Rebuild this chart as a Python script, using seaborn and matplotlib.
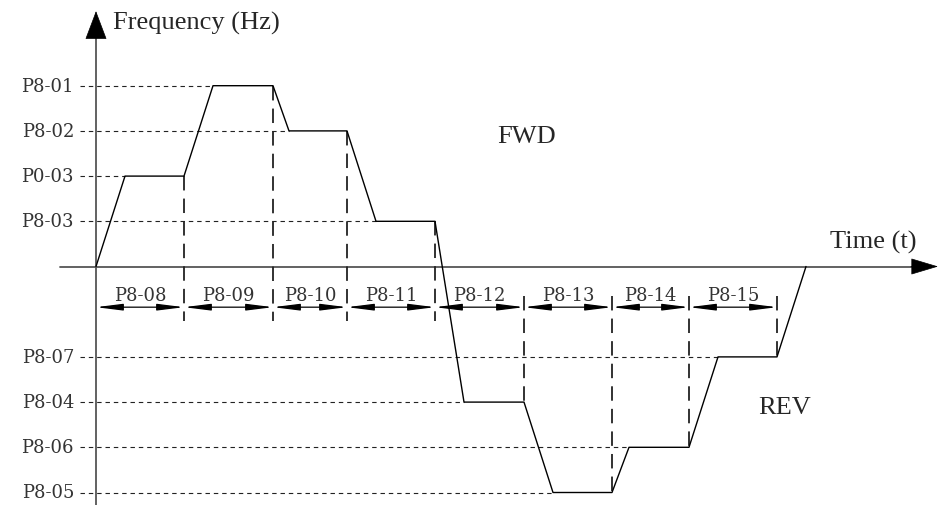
import matplotlib
matplotlib.use("Agg")
import matplotlib.pyplot as plt
import seaborn as sns
import pandas as pd

# level names and their frequencies (Hz)
level_names = ["P8-01", "P8-02", "P0-03", "P8-03", "P8-07", "P8-04", "P8-06", "P8-05"]
level_values = [40, 30, 20, 10, -20, -30, -40, -50]

# speed profile corner points
profile_t = [0, 2.9, 8.8, 11.7, 17.7, 19.3, 25.1, 28.0, 33.9,
             36.8, 42.8, 45.7, 51.6, 53.3, 59.3, 62.2, 68.1, 71.0]
profile_f = [0, 20, 20, 40, 40, 30, 30, 10, 10,
             -30, -30, -50, -50, -40, -40, -20, -20, 0]

# stage boundaries and stage time parameters
stage_bounds = [0, 8.8, 17.7, 25.1, 33.9, 42.8, 51.6, 59.3, 68.1]
stage_names = ["P8-08", "P8-09", "P8-10", "P8-11", "P8-12", "P8-13", "P8-14", "P8-15"]

sns.set_style("white")
plt.rcParams["font.family"] = ["Liberation Serif", "DejaVu Serif"]

PX_T = 10.0    # px per time unit
PX_F = 4.52    # px per Hz
X0, Y0 = 96, 267.5
W, H = 938, 506

fig = plt.figure(figsize=(W / 100, H / 100), dpi=100)
ax = fig.add_axes([0, 0, 1, 1])
ax.set_xlim(-X0 / PX_T, (W - X0) / PX_T)
ax.set_ylim(-(H - Y0) / PX_F, Y0 / PX_F)
ax.axis("off")

df = pd.DataFrame({"t": profile_t, "f": profile_f})
param_font = dict(fontsize=13, family="DejaVu Serif", color="#333333")

# axes with arrows
axis_col = "#555555"
ax.plot([0, 0], [-(H - Y0) / PX_F, 50.8], color=axis_col, lw=1.3)
ax.annotate("", xy=(0, 56.5), xytext=(0, 50.6),
            arrowprops=dict(arrowstyle="-|>,head_length=1.9,head_width=0.72",
                            color="black", lw=0.5, shrinkA=0, shrinkB=0))
ax.plot([-3.6, 81.7], [0, 0], color=axis_col, lw=1.3)
ax.annotate("", xy=(84.2, 0), xytext=(81.5, 0),
            arrowprops=dict(arrowstyle="-|>,head_length=1.8,head_width=0.54",
                            color="black", lw=0.5, shrinkA=0, shrinkB=0))

# dotted guide lines for each level
for name, val in zip(level_names, level_values):
    t_end = df.loc[df["f"] == val, "t"].min()
    ax.plot([-1.6, t_end], [val, val], color="#222222", lw=0.8,
            dashes=(4, 3.5))
    ax.text(-2.2, val, name, ha="right", va="center", **param_font)

# long-dashed stage boundaries
for b in stage_bounds[1:]:
    fv = df.loc[df["t"] == b, "f"].iloc[0]
    if fv > 0:
        ax.plot([b, b], [fv, -12.1], color="#222222", lw=1.3, dashes=(8, 4.5))
    else:
        ax.plot([b, b], [-6.5, fv], color="#222222", lw=1.3, dashes=(8, 4.5))

# stage arrows and labels
for i, name in enumerate(stage_names):
    t0, t1 = stage_bounds[i], stage_bounds[i + 1]
    ax.annotate("", xy=(t1, -9.0), xytext=(t0, -9.0),
                arrowprops=dict(arrowstyle="<|-|>,head_length=1.6,head_width=0.2",
                                color="black", lw=0.9, shrinkA=0, shrinkB=0))
    ax.text((t0 + t1) / 2, -6.2, name, ha="center", va="center", **param_font)

# the profile itself
sns.lineplot(data=df, x="t", y="f", sort=False, estimator=None,
             color="black", lw=1.0, ax=ax)

ax.text(1.7, 54.1, "Frequency (Hz)", ha="left", va="center", fontsize=19)
ax.text(82.0, 5.6, "Time (t)", ha="right", va="center", fontsize=19)
ax.text(43.1, 28.9, "FWD", ha="center", va="center", fontsize=19)
ax.text(68.9, -31.1, "REV", ha="center", va="center", fontsize=19)

fig.savefig("out.png", dpi=100)
